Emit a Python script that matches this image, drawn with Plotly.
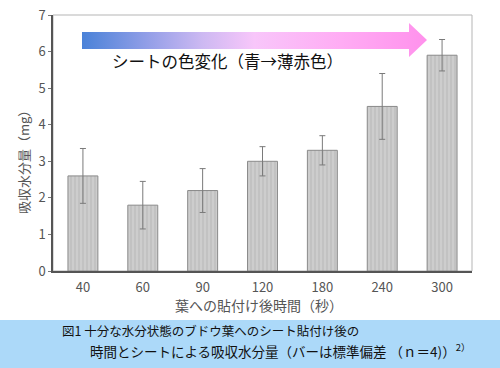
import plotly.graph_objects as go

categories = ["40", "60", "90", "120", "180", "240", "300"]
values = [2.6, 1.8, 2.2, 3.0, 3.3, 4.5, 5.9]
errors = [0.75, 0.65, 0.6, 0.4, 0.4, 0.9, 0.43]
y_ticks = [0, 1, 2, 3, 4, 5, 6, 7]

FONT = "Noto Sans CJK JP"
W, H = 500, 368
L, R, T, B = 53, 28, 15, 97

fig = go.Figure()
fig.add_trace(go.Bar(
    x=categories, y=values, width=0.5,
    marker=dict(color="#c8c8c8", line=dict(color="#8a8a8a", width=1),
                pattern=dict(shape="|", fgcolor="#adadad", bgcolor="#cdcdcd", size=4, solidity=0.35)),
    error_y=dict(type="data", array=errors, visible=True, color="#7a7a7a", thickness=1, width=3),
    showlegend=False, hoverinfo="skip",
))

# gradient arrow (pixel coordinates on hidden overlay axes)
ax = [82, 409, 409, 427, 409, 409, 82, 82]
ay = [32, 32, 23, 40, 57, 49, 49, 32]
fig.add_trace(go.Scatter(
    x=ax, y=ay, xaxis="x2", yaxis="y2", mode="lines", fill="toself",
    line=dict(width=0, color="rgba(0,0,0,0)"),
    fillgradient=dict(type="horizontal", colorscale=[
        [0.0, "rgb(74,130,216)"], [0.2, "rgb(150,160,232)"], [0.35, "rgb(205,185,242)"],
        [0.5, "rgb(248,198,250)"], [0.75, "rgb(255,172,244)"], [1.0, "rgb(255,145,236)"]]),
    showlegend=False, hoverinfo="skip",
))

def py(p):
    return (H - B - p) / (H - T - B)

def px(p):
    return (p - L) / (W - L - R)

shapes = [
    dict(type="rect", xref="paper", yref="paper", x0=px(-2), x1=px(W + 2), y0=py(320), y1=py(H + 2),
         fillcolor="#acd9f9", line=dict(width=0), layer="below"),
    dict(type="rect", xref="paper", yref="paper", x0=0, x1=1, y0=0, y1=1,
         line=dict(color="#b5b5b5", width=1), layer="below"),
]

annotations = [
    dict(text="シートの色変化（青→薄赤色）", x=px(110), y=py(61), xref="paper", yref="paper",
         xanchor="left", yanchor="middle", showarrow=False,
         font=dict(family=FONT, size=16.5, color="#111")),
    dict(text="葉への貼付け後時間（秒）", x=px(259), y=py(305), xref="paper", yref="paper",
         xanchor="center", yanchor="middle", showarrow=False,
         font=dict(family=FONT, size=14, color="#555")),
    dict(text="吸収水分量（mg）", x=px(23), y=py(159), xref="paper", yref="paper",
         xanchor="center", yanchor="middle", showarrow=False, textangle=-90,
         font=dict(family=FONT, size=13, color="#555")),
    dict(text="図1 十分な水分状態のブドウ葉へのシート貼付け後の", x=px(60), y=py(330), xref="paper", yref="paper",
         xanchor="left", yanchor="middle", showarrow=False,
         font=dict(family=FONT, size=12.5, color="#111")),
    dict(text="時間とシートによる吸収水分量（バーは標準偏差 （ｎ＝4)）<sup>2）</sup>", x=px(88), y=py(350),
         xref="paper", yref="paper", xanchor="left", yanchor="middle", showarrow=False,
         font=dict(family=FONT, size=13.5, color="#111")),
]

fig.update_layout(
    width=W, height=H, margin=dict(l=L, r=R, t=T, b=B, autoexpand=False),
    paper_bgcolor="white", plot_bgcolor="white",
    font=dict(family=FONT, color="#555"),
    bargap=0.5,
    xaxis=dict(type="category", showline=True, linecolor="#555", linewidth=1.5, ticks="",
               ticklabelstandoff=4,
               tickfont=dict(size=13, color="#555"), showgrid=False, zeroline=False, automargin=False),
    yaxis=dict(range=[0, 7], tickvals=y_ticks, showline=True, linecolor="#555", linewidth=1.5,
               ticks="outside", ticklen=3, tickcolor="#777", tickfont=dict(size=13, color="#555"),
               showgrid=False, zeroline=False, automargin=False),
    xaxis2=dict(overlaying="x", range=[L, W - R], visible=False, fixedrange=True),
    yaxis2=dict(overlaying="y", range=[H - B, T], visible=False, fixedrange=True),
    shapes=shapes, annotations=annotations,
)

fig.write_html("out.html", config={"displayModeBar": False},
               post_script="document.body.style.margin='0px';document.body.style.padding='0px';document.body.style.overflow='hidden';")
